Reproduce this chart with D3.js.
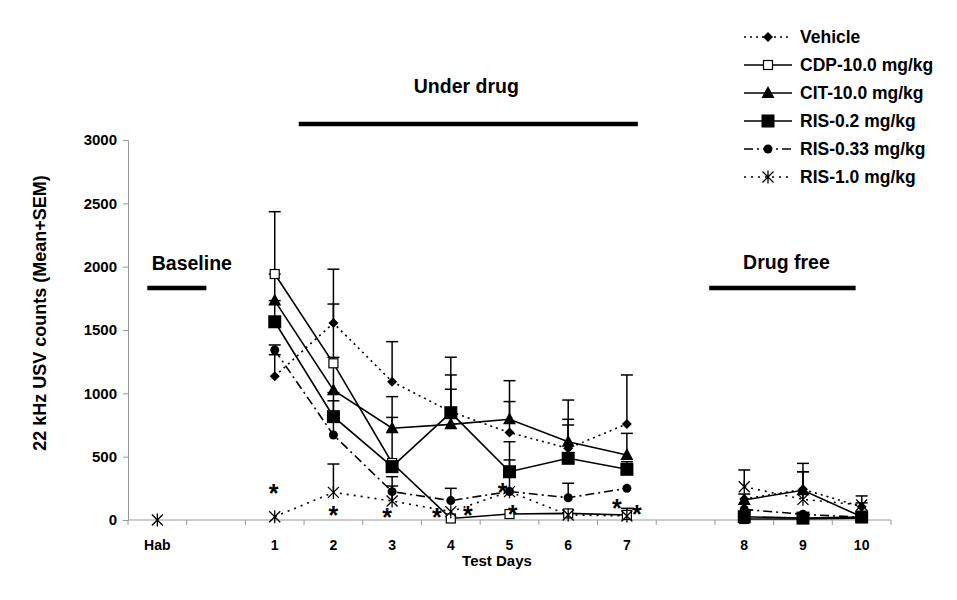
<!DOCTYPE html>
<html><head><meta charset="utf-8">
<script src="https://cdn.jsdelivr.net/npm/d3@7"></script>
<style>
body{margin:0;background:#fff;}
svg text{font-family:"Liberation Sans",Arial,sans-serif;font-weight:bold;fill:#000;}
</style></head>
<body>
<svg id="chart" width="957" height="600"></svg>
<script>
// ---- data ----
const categories = ["Hab","gap1","1","2","3","4","5","6","7","gap2","8","9","10"];
const tickLabels = ["Hab","","1","2","3","4","5","6","7","","8","9","10"];
const yTicks = [0,500,1000,1500,2000,2500,3000];
const seriesNames = ["Vehicle","CDP-10.0 mg/kg","CIT-10.0 mg/kg","RIS-0.2 mg/kg","RIS-0.33 mg/kg","RIS-1.0 mg/kg"];

const vehicle    = [null,null,1135,1555,1092,855,690,566,758,null,165,242,105];
const vehicleErr = [0,0,170,425,316,430,245,381,387,0,40,205,30];
const cdp        = [null,null,1942,1237,450,12,47,52,40,null,8,8,15];
const cdpErr     = [0,0,492,468,360,0,0,0,0,0,0,0,0];
const cit        = [null,null,1732,1025,724,755,795,618,513,null,158,235,25];
const citErr     = [0,0,210,259,250,277,305,177,171,0,0,146,0];
const ris02      = [null,null,1565,816,421,847,381,487,400,null,26,15,24];
const ris02Err   = [0,0,167,190,30,298,237,263,60,0,0,0,0];
const ris033     = [null,null,1342,671,224,153,225,176,250,null,84,45,21];
const ris033Err  = [0,0,40,270,118,97,0,114,0,0,0,0,0];
const ris10      = [0,null,26,218,150,66,224,40,32,null,263,163,118];
const ris10Err   = [0,0,0,224,118,0,250,40,60,0,132,218,72];

// significance stars: category, value, horizontal nudge
const starCats = ["1","2","3","4","4","5","5","7","7"];
const starVals = [253,79,63,63,79,260,87,134,87];
const starNudge = [-1,0,-5,-14,17,-7,3,-10,10];

const periodLabels = ["Baseline","Under drug","Drug free"];

// ---- setup ----
const svg = d3.select("#chart");
const x = d3.scaleBand().domain(categories).range([128,891]).paddingInner(0).paddingOuter(0);
const y = d3.scaleLinear().domain([0,3000]).range([520,140]);
const cx = c => x(c) + x.bandwidth()/2;

const styles = [
  {dash:"2,4", marker:"diamond"},
  {dash:null, marker:"osquare"},
  {dash:null, marker:"triangle"},
  {dash:null, marker:"bsquare"},
  {dash:"9,4,2,4", marker:"circle"},
  {dash:"2,5", marker:"star"}
];
const vals = [vehicle,cdp,cit,ris02,ris033,ris10];
const errs = [vehicleErr,cdpErr,citErr,ris02Err,ris033Err,ris10Err];

// ---- axes ----
const gy = svg.append("g").attr("transform","translate(128,0)")
  .call(d3.axisLeft(y).tickValues(yTicks).tickFormat(d3.format("d")).tickSize(5).tickPadding(6));
gy.select(".domain").attr("stroke","#999");
gy.selectAll(".tick line").attr("stroke","#999");
gy.selectAll(".tick text").attr("font-size",15).attr("font-family","Liberation Sans, Arial").attr("font-weight","bold");

const gx = svg.append("g").attr("transform","translate(0,520)");
gx.append("line").attr("x1",128).attr("x2",891).attr("y1",0).attr("y2",0).attr("stroke","#999");
const bounds = categories.map(c=>x(c)).concat([x(categories[categories.length-1])+x.bandwidth()]);
gx.selectAll("line.tk").data(bounds).enter().append("line").attr("class","tk")
  .attr("x1",d=>d).attr("x2",d=>d).attr("y1",0).attr("y2",5).attr("stroke","#999");
gx.selectAll("text").data(categories).enter().append("text")
  .attr("x",d=>cx(d)).attr("y",30).attr("text-anchor","middle").attr("font-size",14)
  .text((d,i)=>tickLabels[i]);

svg.append("text").attr("x",497).attr("y",566).attr("text-anchor","middle").attr("font-size",15).text("Test Days");
svg.append("text").attr("transform","translate(46,313) rotate(-90)").attr("text-anchor","middle")
  .attr("font-size",18).text("22 kHz USV counts (Mean+SEM)");

// ---- period bars ----
const periods = [
  {label:periodLabels[0], c1:"Hab", d1:-10, c2:"Hab", d2:49, lv:1832, tv:2030, ld:15},
  {label:periodLabels[1], c1:"1", d1:24, c2:"7", d2:11, lv:3126, tv:3430, ld:-2},
  {label:periodLabels[2], c1:"8", d1:-35, c2:"10", d2:-6, lv:1832, tv:2040, ld:4}
];
periods.forEach(p=>{
  const x1 = cx(p.c1)+p.d1, x2 = cx(p.c2)+p.d2;
  svg.append("line").attr("x1",x1).attr("x2",x2).attr("y1",y(p.lv)).attr("y2",y(p.lv))
    .attr("stroke","#000").attr("stroke-width",4.5);
  svg.append("text").attr("x",(x1+x2)/2 + p.ld).attr("y",y(p.tv)+7)
    .attr("text-anchor","middle").attr("font-size",19.5).text(p.label);
});

// ---- marker drawing ----
function drawMarker(g, type, px, py){
  if(type==="diamond"){
    g.append("path").attr("d",`M${px},${py-5}L${px+5},${py}L${px},${py+5}L${px-5},${py}Z`).attr("fill","#000");
  } else if(type==="osquare"){
    g.append("rect").attr("x",px-4.5).attr("y",py-4.5).attr("width",9).attr("height",9)
      .attr("fill","#fff").attr("stroke","#000").attr("stroke-width",1.2);
  } else if(type==="triangle"){
    g.append("path").attr("d",`M${px},${py-7}L${px+6.5},${py+5}L${px-6.5},${py+5}Z`).attr("fill","#000");
  } else if(type==="bsquare"){
    g.append("rect").attr("x",px-6.5).attr("y",py-6.5).attr("width",13).attr("height",13).attr("fill","#000");
  } else if(type==="circle"){
    g.append("circle").attr("cx",px).attr("cy",py).attr("r",4.5).attr("fill","#000");
  } else if(type==="star"){
    g.append("path").attr("d",`M${px-5.5},${py-5.5}L${px+5.5},${py+5.5}M${px+5.5},${py-5.5}L${px-5.5},${py+5.5}M${px},${py-6.5}L${px},${py+6.5}`)
      .attr("stroke","#000").attr("stroke-width",1.3).attr("fill","none");
  }
}

// ---- lines ----
const gLines = svg.append("g");
vals.forEach((arr,si)=>{
  const pts = categories.map((c,i)=>({c, v:arr[i]}));
  const line = d3.line().defined(d=>d.v!==null).x(d=>cx(d.c)).y(d=>y(d.v));
  gLines.append("path").attr("d",line(pts)).attr("fill","none").attr("stroke","#000")
    .attr("stroke-width",1.6).attr("stroke-dasharray",styles[si].dash);
});

// ---- error bars ----
const gErr = svg.append("g");
vals.forEach((arr,si)=>{
  categories.forEach((c,i)=>{
    const v = arr[i], e = errs[si][i];
    if(v===null || !e) return;
    const px = cx(c);
    gErr.append("line").attr("x1",px).attr("x2",px).attr("y1",y(v)).attr("y2",y(v+e)).attr("stroke","#000").attr("stroke-width",1.5);
    gErr.append("line").attr("x1",px-6).attr("x2",px+6).attr("y1",y(v+e)).attr("y2",y(v+e)).attr("stroke","#000").attr("stroke-width",1.5);
  });
});

// ---- markers ----
const gMark = svg.append("g");
vals.forEach((arr,si)=>{
  categories.forEach((c,i)=>{
    if(arr[i]===null) return;
    drawMarker(gMark, styles[si].marker, cx(c), y(arr[i]));
  });
});

// ---- stars ----
starCats.forEach((c,i)=>{
  svg.append("text").attr("x",cx(c)+starNudge[i]).attr("y",y(starVals[i])+14)
    .attr("text-anchor","middle").attr("font-size",25).text("*");
});

// ---- legend ----
const lg = svg.append("g");
seriesNames.forEach((n,i)=>{
  const ly = 37 + i*28;
  lg.append("line").attr("x1",744).attr("x2",792).attr("y1",ly).attr("y2",ly)
    .attr("stroke","#000").attr("stroke-width",1.6).attr("stroke-dasharray",styles[i].dash);
  drawMarker(lg, styles[i].marker, 768, ly);
  lg.append("text").attr("x",800).attr("y",ly+6).attr("font-size",17.5).text(n);
});
</script>
</body></html>
